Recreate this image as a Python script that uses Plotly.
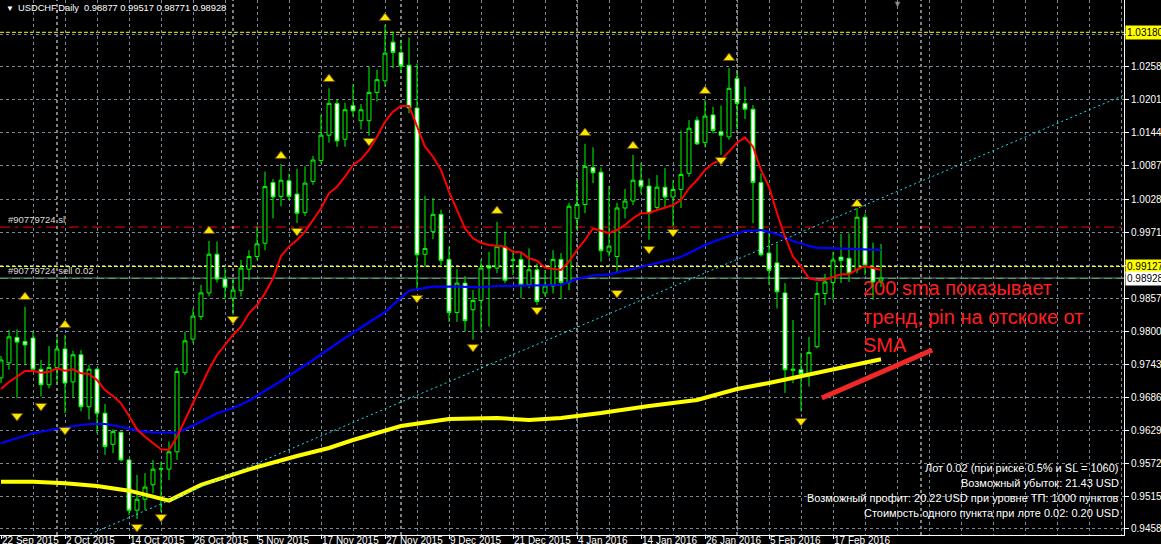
import plotly.graph_objects as go

# ---------------- data ----------------
opens = [0.9720, 0.9746, 0.9790, 0.9783, 0.9789, 0.9735, 0.9708, 0.9738, 0.9770, 0.9713,
         0.9760, 0.9670, 0.9735, 0.9659, 0.9605, 0.9626, 0.9578, 0.9491, 0.9510, 0.9535,
         0.9562, 0.9562, 0.9592, 0.9729, 0.9787, 0.9826, 0.9867, 0.9934, 0.9891, 0.9858,
         0.9871, 0.9908, 0.9930, 0.9953, 1.0058, 1.0034, 1.0061, 1.0038, 1.0006, 1.0060,
         1.0096, 1.0140, 1.0195, 1.0133, 1.0191, 1.0165, 1.0165, 1.0214, 1.0234, 1.0301,
         1.0283, 1.0261, 1.0187, 0.9934, 0.9973, 1.0003, 0.9925, 0.9833, 0.9884, 0.9838,
         0.9854, 0.9914, 0.9910, 0.9947, 0.9923, 0.9925, 0.9881, 0.9907, 0.9867, 0.9879,
         0.9925, 0.9885, 0.9996, 1.0020, 1.0084, 1.0076, 0.9938, 0.9930, 1.0014, 1.0026,
         1.0062, 1.0052, 1.0015, 1.0050, 1.0033, 1.0046, 1.0074, 1.0166, 1.0127, 1.0175,
         1.0146, 1.0137, 1.0238, 1.0195, 1.0185, 1.0058, 0.9936, 0.9919, 0.9867, 0.9733,
         0.9734, 0.9727, 0.9774, 0.9866, 0.9885, 0.9929, 0.9927, 0.9907, 0.9998, 0.9910,
         0.98877]
highs = [0.9758, 0.9803, 0.9804, 0.9843, 0.9800, 0.9751, 0.9775, 0.9790, 0.9794, 0.9767,
         0.9768, 0.9742, 0.9737, 0.9675, 0.9631, 0.9627, 0.9580, 0.9552, 0.9555, 0.9578,
         0.9575, 0.9610, 0.9738, 0.9800, 0.9840, 0.9881, 0.9957, 0.9956, 0.9910, 0.9892,
         0.9924, 0.9941, 0.9982, 1.0077, 1.0064, 1.0090, 1.0073, 1.0082, 1.0086, 1.0104,
         1.0175, 1.0221, 1.0201, 1.0196, 1.0228, 1.0194, 1.0259, 1.0253, 1.0331, 1.0319,
         1.0305, 1.0309, 1.0264, 1.0035, 1.0031, 1.0011, 0.9947, 0.9908, 0.9896, 0.9872,
         0.9925, 0.9938, 0.9990, 0.9973, 0.9941, 0.9938, 0.9944, 0.9918, 0.9907, 0.9941,
         0.9936, 1.0023, 1.0062, 1.0125, 1.0119, 1.0084, 1.0052, 1.0023, 1.0047, 1.0106,
         1.0092, 1.0065, 1.0071, 1.0083, 1.0062, 1.0148, 1.0166, 1.0172, 1.0201, 1.0189,
         1.0191, 1.0256, 1.0250, 1.0224, 1.0192, 1.0074, 0.9973, 0.9952, 0.9884, 0.9820,
         0.9763, 0.9791, 0.9886, 0.9900, 0.9938, 0.9969, 0.9970, 1.0014, 1.0004, 0.9954,
         0.99517]
lows = [0.9711, 0.9734, 0.9685, 0.9742, 0.9731, 0.9688, 0.9702, 0.9711, 0.9659, 0.9686,
        0.9662, 0.9648, 0.9624, 0.9587, 0.9590, 0.9575, 0.9483, 0.9476, 0.9491, 0.9520,
        0.9488, 0.9543, 0.9578, 0.9725, 0.9780, 0.9820, 0.9861, 0.9885, 0.9856, 0.9829,
        0.9861, 0.9889, 0.9924, 0.9941, 0.9996, 1.0017, 1.0028, 0.9988, 1.0000, 1.0054,
        1.0091, 1.0127, 1.0120, 1.0120, 1.0172, 1.0150, 1.0139, 1.0198, 1.0224, 1.0256,
        1.0247, 1.0178, 0.9872, 0.9912, 0.9960, 0.9915, 0.9817, 0.9817, 0.9800, 0.9786,
        0.9803, 0.9809, 0.9901, 0.9884, 0.9898, 0.9858, 0.9875, 0.9846, 0.9861, 0.9866,
        0.9856, 0.9872, 0.9976, 1.0005, 1.0057, 0.9921, 0.9930, 0.9901, 0.9996, 1.0019,
        1.0039, 0.9959, 1.0011, 1.0015, 0.9982, 1.0014, 1.0068, 1.0123, 1.0119, 1.0143,
        1.0106, 1.0132, 1.0150, 1.0168, 0.9988, 0.9930, 0.9881, 0.9840, 0.9694, 0.9711,
        0.9662, 0.9705, 0.9771, 0.9846, 0.9855, 0.9884, 0.9886, 0.9901, 0.9898, 0.9855,
        0.98771]
closes = [0.9751, 0.9791, 0.9782, 0.9777, 0.9735, 0.9708, 0.9738, 0.9770, 0.9711, 0.9760,
          0.9670, 0.9735, 0.9659, 0.9601, 0.9627, 0.9578, 0.9491, 0.9510, 0.9531, 0.9562,
          0.9563, 0.9592, 0.9731, 0.9784, 0.9827, 0.9867, 0.9934, 0.9891, 0.9877, 0.9872,
          0.9910, 0.9930, 0.9952, 1.0051, 1.0033, 1.0062, 1.0034, 1.0005, 1.0057, 1.0097,
          1.0140, 1.0195, 1.0130, 1.0184, 1.0182, 1.0184, 1.0214, 1.0236, 1.0282, 1.0283,
          1.0260, 1.0187, 0.9933, 0.9944, 1.0003, 0.9923, 0.9833, 0.9884, 0.9819, 0.9854,
          0.9910, 0.9910, 0.9947, 0.9889, 0.9924, 0.9881, 0.9907, 0.9852, 0.9879, 0.9925,
          0.9885, 1.0017, 1.0020, 1.0086, 1.0075, 0.9940, 0.9948, 1.0014, 1.0026, 1.0062,
          1.0051, 1.0005, 1.0050, 1.0033, 1.0046, 1.0072, 1.0152, 1.0125, 1.0173, 1.0148,
          1.0140, 1.0221, 1.0195, 1.0185, 1.0058, 0.9933, 0.9906, 0.9869, 0.9734, 0.9735,
          0.9727, 0.9764, 0.9866, 0.9886, 0.9924, 0.9923, 0.9901, 0.9998, 0.9915, 0.9886,
          0.98928]

date_labels = ["22 Sep 2015", "2 Oct 2015", "14 Oct 2015", "26 Oct 2015", "5 Nov 2015",
               "17 Nov 2015", "27 Nov 2015", "9 Dec 2015", "21 Dec 2015", "4 Jan 2016",
               "14 Jan 2016", "26 Jan 2016", "5 Feb 2016", "17 Feb 2016"]
date_label_idx = [0, 8, 16, 24, 32, 40, 48, 56, 64, 72, 80, 88, 96, 104]
month_start_idx = [7, 29, 50, 72, 92, 115]

price_ticks = [1.03150, 1.02580, 1.02010, 1.01440, 1.00870, 1.00285, 0.99715, 0.99145,
               0.98575, 0.98005, 0.97435, 0.96865, 0.96295, 0.95725, 0.95155, 0.94585]
price_tick_text = ["", "1.02580", "1.02010", "1.01440", "1.00870", "1.00285", "0.99715", "",
                   "0.98575", "0.98005", "0.97435", "0.96865", "0.96295", "0.95725", "0.95155", "0.94585"]

# red fast MA (one value per bar)
red_ma = [0.97008, 0.97129, 0.97221, 0.97319, 0.97324, 0.97290, 0.97307, 0.97366, 0.97324, 0.97349,
          0.97279, 0.97267, 0.97163, 0.96990, 0.96887, 0.96760, 0.96541, 0.96310, 0.96182, 0.96068,
          0.95964, 0.95952, 0.96182, 0.96471, 0.96760, 0.97077, 0.97349, 0.97596, 0.97769, 0.97942,
          0.98086, 0.98318, 0.98461, 0.98664, 0.98923, 0.99309, 0.99470, 0.99586, 0.99730, 0.99932,
          1.00135, 1.00394, 1.00508, 1.00681, 1.00884, 1.00982, 1.01143, 1.01374, 1.01633, 1.01806,
          1.01905, 1.01905, 1.01547, 1.01201, 1.01027, 1.00797, 1.00422, 1.00105, 0.99788, 0.99615,
          0.99539, 0.99500, 0.99491, 0.99470, 0.99384, 0.99373, 0.99269, 0.99228, 0.99107, 0.99089,
          0.99067, 0.99211, 0.99413, 0.99586, 0.99788, 0.99747, 0.99702, 0.99759, 0.99846, 0.99962,
          1.00048, 1.00048, 1.00105, 1.00145, 1.00192, 1.00278, 1.00481, 1.00624, 1.00797, 1.00913,
          1.00970, 1.01114, 1.01270, 1.01363, 1.01201, 1.00797, 1.00508, 1.00048, 0.99643, 0.99297,
          0.99124, 0.98923, 0.98894, 0.98894, 0.98941, 0.98992, 0.98992, 0.99079, 0.99136, 0.99096,
          0.99067]

# blue medium MA (read at sampled bars)
blue_idx = [0, 4, 8, 11, 13, 15, 17, 19, 22, 23, 25, 27, 29, 31, 35, 39, 43, 48, 51, 54,
            57, 60, 62, 70, 72, 74, 76, 80, 85, 88, 91, 93, 95, 97, 99, 101, 102, 105, 108, 110]
blue_val = [0.96068, 0.96241, 0.96345, 0.96402, 0.96402, 0.96355, 0.96286, 0.96258, 0.96252, 0.96310,
            0.96442, 0.96587, 0.96674, 0.96805, 0.97146, 0.97510, 0.97890, 0.98340, 0.98709, 0.98778,
            0.98778, 0.98768, 0.98790, 0.98807, 0.98911, 0.98972, 0.98992, 0.99119, 0.99292, 0.99500,
            0.99655, 0.99742, 0.99759, 0.99690, 0.99569, 0.99482, 0.99453, 0.99442, 0.99425, 0.99413]

# yellow 200 SMA (read at sampled bars)
yellow_idx = [0, 4, 8, 12, 16, 19, 21, 25, 29, 31, 37, 41, 44, 50, 56, 62, 66, 70, 75, 81,
              87, 92, 96, 100, 104, 110]
yellow_val = [0.95404, 0.95404, 0.95376, 0.95329, 0.95248, 0.95144, 0.95075, 0.95347, 0.95520, 0.95618,
              0.95848, 0.95987, 0.96125, 0.96367, 0.96489, 0.96506, 0.96471, 0.96506, 0.96592, 0.96714,
              0.96817, 0.97008, 0.97112, 0.97233, 0.97349, 0.97522]

# fractal arrows
up_idx = [3, 8, 26, 35, 41, 48, 62, 73, 79, 88, 91, 107]
up_price = [0.98600, 0.98115, 0.99742, 1.01040, 1.02372, 1.03428, 1.00088, 1.01438, 1.01213,
            1.02164, 1.02735, 1.00209]
down_idx = [2, 5, 8, 17, 20, 29, 37, 46, 52, 59, 67, 77, 81, 84, 90, 100]
down_price = [0.96541, 0.96714, 0.96298, 0.94620, 0.94793, 0.98219, 0.99742, 1.01299, 0.98582,
              0.97735, 0.98375, 0.98669, 0.99430, 0.99724, 1.00970, 0.96454]

# trend line and hand-drawn line
trend_idx = [10, 141]
trend_price = [0.9443, 1.0213]
drawn_idx = [102.6, 116.4]
drawn_price = [0.96852, 0.97683]

level_top = 1.03180
level_mid = 0.99127
sl_price = 0.99810
order_price = 0.98920
bid_price = 0.98928

header = "USDCHF,Daily\u00a0\u00a00.98877 0.99517 0.98771 0.98928"
info_lines = ["Лот 0.02 (при риске 0.5% и SL = 1060)",
              "Возможный убыток: 21.43 USD",
              "Возможный профит: 20.22 USD при уровне ТП: 1000 пунктов",
              "Стоимость одного пункта при лоте 0.02: 0.20 USD"]
note_lines = ["200 sma показывает", "тренд, pin на отскоке от", "SMA"]

# ---------------- figure ----------------
FONT = "Liberation Sans, Arial, sans-serif"
W, H = 1161, 544
ML, MR, MT, MB = 0, 37, 0, 9
PW, PH = W - ML - MR, H - MT - MB

fig = go.Figure()

fig.add_trace(go.Candlestick(
    x=list(range(len(opens))), open=opens, high=highs, low=lows, close=closes,
    increasing=dict(line=dict(color="#00ff00", width=1), fillcolor="#000000"),
    decreasing=dict(line=dict(color="#00ff00", width=1), fillcolor="#ffffff"),
    whiskerwidth=0, hoverinfo="skip", showlegend=False))

fig.add_trace(go.Scatter(x=yellow_idx, y=yellow_val, mode="lines",
                         line=dict(color="#ffff00", width=4), hoverinfo="skip"))
fig.add_trace(go.Scatter(x=blue_idx, y=blue_val, mode="lines",
                         line=dict(color="#0000ff", width=2.2), hoverinfo="skip"))
fig.add_trace(go.Scatter(x=list(range(len(red_ma))), y=red_ma, mode="lines",
                         line=dict(color="#ff0000", width=2), hoverinfo="skip"))
fig.add_trace(go.Scatter(x=trend_idx, y=trend_price, mode="lines",
                         line=dict(color="#20e0f0", width=1, dash="2px,3px"), hoverinfo="skip"))
fig.add_trace(go.Scatter(x=up_idx, y=up_price, mode="markers",
                         marker=dict(symbol="triangle-up", size=10, color="#ffe600",
                                     line=dict(color="#6b5200", width=1)), hoverinfo="skip"))
fig.add_trace(go.Scatter(x=down_idx, y=down_price, mode="markers",
                         marker=dict(symbol="triangle-down", size=10, color="#ffe600",
                                     line=dict(color="#6b5200", width=1)), hoverinfo="skip"))
fig.add_trace(go.Scatter(x=drawn_idx, y=drawn_price, mode="lines",
                         line=dict(color="#f02828", width=5), hoverinfo="skip"))

# horizontal level lines
def hline(y, color, dash, width=1):
    fig.add_shape(type="line", xref="paper", x0=0, x1=1, yref="y", y0=y, y1=y,
                  line=dict(color=color, width=width, dash=dash), layer="below")

hline(level_top, "#ffff00", "4px,2px")
hline(level_mid, "#ffff00", "4px,2px")
hline(sl_price, "#ff0000", "10px,5px,3px,5px")
hline(order_price, "#22c322", "8px,4px")
hline(bid_price, "#778899", "solid")

# month separators
for m in month_start_idx:
    fig.add_shape(type="line", xref="x", x0=m, x1=m, yref="paper", y0=0, y1=1,
                  line=dict(color="#ffffff", width=1, dash="3px,3px"), layer="below")

minor_vals = [v for v in range(0, 141, 4) if v not in date_label_idx]

fig.update_layout(
    width=W, height=H, margin=dict(l=ML, r=MR, t=MT, b=MB),
    paper_bgcolor="#000000", plot_bgcolor="#000000", showlegend=False,
    xaxis=dict(range=[-0.125, -0.125 + PW / 8.0], tickmode="array", tickvals=date_label_idx,
               ticktext=date_labels, ticklabelposition="outside right", ticks="outside",
               tickangle=0, automargin=False, ticklabelstandoff=-4,
               ticklen=3, tickcolor="#ffffff", tickfont=dict(family=FONT, size=10, color="#ffffff"),
               showline=True, linecolor="#ffffff", linewidth=1, showgrid=True,
               gridcolor="#778899", griddash="3px,3px", gridwidth=1, zeroline=False,
               rangeslider=dict(visible=False), fixedrange=True,
               minor=dict(tickmode="array", tickvals=minor_vals, showgrid=True,
                          gridcolor="#778899", griddash="3px,3px", ticks="")),
    yaxis=dict(side="right", range=[0.94481, 1.03739], tickmode="array", tickvals=price_ticks,
               ticktext=price_tick_text, ticks="outside", ticklen=4, tickcolor="#ffffff",
               automargin=False,
               tickfont=dict(family=FONT, size=10, color="#ffffff"), showline=True,
               linecolor="#ffffff", linewidth=1, showgrid=True, gridcolor="#778899",
               griddash="3px,3px", zeroline=False, fixedrange=True),
)

def py(ypix):
    return (PH - ypix) / PH

ann = []
# header
ann.append(dict(xref="paper", yref="paper", x=4 / PW, y=py(8.5), xanchor="left", yanchor="middle",
                text="▼", showarrow=False, font=dict(family=FONT, size=8, color="#ffffff")))
ann.append(dict(xref="paper", yref="paper", x=16 / PW, y=py(8.5), xanchor="left", yanchor="middle",
                text=header, showarrow=False, font=dict(family=FONT, size=9.3, color="#ffffff")))
# chart shift marker
ann.append(dict(xref="paper", yref="paper", x=897 / PW, y=1, xanchor="center", yanchor="top",
                yshift=3, text="▼", showarrow=False, font=dict(family=FONT, size=9, color="#8a8a8a")))
# order labels
ann.append(dict(xref="paper", yref="y", x=6 / PW, y=sl_price, xanchor="left", yanchor="bottom",
                text="#90779724 sl", showarrow=False, yshift=0,
                font=dict(family=FONT, size=9.5, color="#dcdcdc")))
ann.append(dict(xref="paper", yref="y", x=6 / PW, y=order_price, xanchor="left", yanchor="bottom",
                text="#90779724 sell 0.02", showarrow=False, yshift=0,
                font=dict(family=FONT, size=9.5, color="#dcdcdc")))
# price boxes on the axis
for val, bg in [(level_top, "#ffff00"), (level_mid, "#ffff00"), (bid_price, "#ffffff")]:
    ann.append(dict(xref="paper", yref="y", x=1, y=val, xanchor="left", yanchor="middle",
                    xshift=1, text=f"{val:.5f}", showarrow=False, bgcolor=bg, borderpad=1,
                    font=dict(family=FONT, size=10, color="#000000")))
# info block
for k, t in enumerate(info_lines):
    ann.append(dict(xref="paper", yref="paper", x=1121 / PW, y=py(468 + 15 * k), xanchor="right",
                    yanchor="middle", text=t, showarrow=False,
                    font=dict(family=FONT, size=11, color="#ffffff")))
# red note
for k, t in enumerate(note_lines):
    ann.append(dict(xref="paper", yref="paper", x=861 / PW, y=py(288 + 28.7 * k), xanchor="left",
                    yanchor="middle", text=t, showarrow=False,
                    font=dict(family=FONT, size=20, color="#ff1f1f")))
fig.update_layout(annotations=ann)

fig.write_html("out.html")
